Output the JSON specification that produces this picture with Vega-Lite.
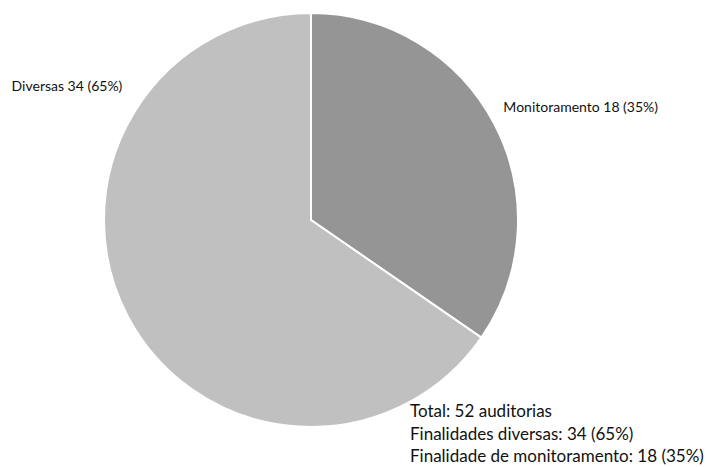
{
  "$schema": "https://vega.github.io/schema/vega-lite/v6.json",
  "width": 622,
  "height": 440,
  "padding": 0,
  "background": "white",
  "config": {"view": {"stroke": null}, "font": "Lato"},
  "title": {
    "text": ["Total: 52 auditorias", "Finalidades diversas: 34 (65%)", "Finalidade de monitoramento: 18 (35%)"],
    "orient": "bottom",
    "anchor": "start",
    "align": "left",
    "dx": 410,
    "dy": -36,
    "offset": 0,
    "font": "Lato",
    "fontSize": 17,
    "fontWeight": "normal",
    "lineHeight": 22.5,
    "color": "#111111"
  },
  "data": {
    "values": [
      {"categoria": "Monitoramento", "n": 18, "rotulo": "Monitoramento 18 (35%)"},
      {"categoria": "Diversas", "n": 34, "rotulo": "Diversas 34 (65%)"}
    ]
  },
  "encoding": {
    "theta": {"field": "n", "type": "quantitative", "stack": true},
    "order": {"field": "n", "sort": "ascending"}
  },
  "layer": [
    {
      "mark": {"type": "arc", "outerRadius": 207, "stroke": "white", "strokeWidth": 2},
      "encoding": {
        "color": {
          "field": "categoria",
          "type": "nominal",
          "scale": {"domain": ["Monitoramento", "Diversas"], "range": ["#959595", "#c0c0c0"]},
          "legend": null
        }
      }
    },
    {
      "transform": [{"filter": "datum.categoria === 'Monitoramento'"}],
      "mark": {"type": "text", "radius": 215, "align": "left", "baseline": "middle", "dx": 2, "dy": -12, "fontSize": 14, "color": "#111111"},
      "encoding": {"text": {"field": "rotulo"}}
    },
    {
      "transform": [{"filter": "datum.categoria === 'Diversas'"}],
      "mark": {"type": "text", "radius": 215, "align": "right", "baseline": "middle", "dx": -379, "dy": -233, "fontSize": 14, "color": "#111111"},
      "encoding": {"text": {"field": "rotulo"}}
    }
  ]
}
